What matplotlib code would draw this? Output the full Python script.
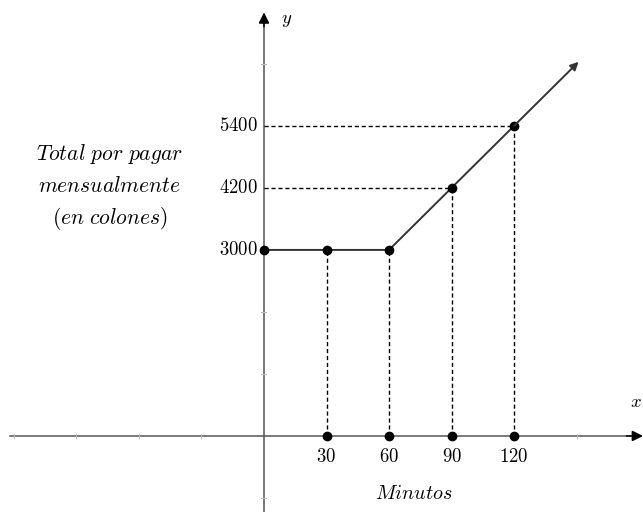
import matplotlib.pyplot as plt

plt.rcParams['mathtext.fontset'] = 'cm'
plt.rcParams['font.family'] = ['DejaVu Serif']

# Data: minutes and monthly total (colones)
minutos = [0, 30, 60, 90, 120]
total = [3000, 3000, 3000, 4200, 5400]
x_ticks = [30, 60, 90, 120]
y_ticks = [3000, 4200, 5400]
arrow_end = (151, 6640)  # where the line keeps going


# the y axis in the drawing is schematic: 3000 sits three tick-steps above 0,
# then every 1200 colones is one more step
def ypos(v):
    return 3 + (v - 3000) / 1200


fig = plt.figure(figsize=(6.43, 5.12), dpi=100)
ax = fig.add_axes([0, 0, 1, 1])
ax.set_xlim(-126.7, 181.9)
ax.set_ylim(-1.226, 7.03)
ax.axis('off')

axis_col = '#555555'
# axes with arrows
ax.plot([-122, 176], [0, 0], color=axis_col, lw=1.1)
ax.annotate('', xy=(181.9, 0), xytext=(174, 0),
            arrowprops=dict(arrowstyle='-|>', color='black', lw=1.1, mutation_scale=16,
                            shrinkA=0, shrinkB=0))
ax.plot([0, 0], [-1.3, 6.7], color=axis_col, lw=1.1)
ax.annotate('', xy=(0, 6.83), xytext=(0, 6.6),
            arrowprops=dict(arrowstyle='-|>', color='black', lw=1.1, mutation_scale=16,
                            shrinkA=0, shrinkB=0))

# faint minor ticks
for t in [-120, -90, -60, -30, 150]:
    ax.plot([t, t], [-0.03, 0.03], color='#bbbbbb', lw=0.8)
for t in [-1, 1, 2, 6]:
    ax.plot([-1.2, 1.2], [t, t], color='#bbbbbb', lw=0.8)

# dashed guide lines
for m, v in zip(minutos[1:], total[1:]):
    ax.plot([m, m], [0, ypos(v)], color='black', lw=1, ls=(0, (3, 2)))
for m, v in zip(minutos[3:], total[3:]):
    ax.plot([0, m], [ypos(v), ypos(v)], color='black', lw=1, ls=(0, (3, 2)))

# the cost line
ax.plot(minutos, [ypos(v) for v in total], color='#333333', lw=1.4)
ax.annotate('', xy=(arrow_end[0], ypos(arrow_end[1])), xytext=(minutos[-1], ypos(total[-1])),
            arrowprops=dict(arrowstyle='-|>', color='#333333', lw=1.4, mutation_scale=12,
                            shrinkA=0, shrinkB=0))

# points
ax.plot(minutos, [ypos(v) for v in total], 'o', color='black', ms=6)
ax.plot(x_ticks, [0] * len(x_ticks), 'o', color='black', ms=6)

# labels
fs = 13.5
for t in x_ticks:
    ax.text(t, -0.2, f'${t}$', ha='center', va='top', fontsize=fs)
for v in y_ticks:
    ax.text(-3, ypos(v), f'${v}$', ha='right', va='center', fontsize=fs)
ax.text(8, 6.7, '$y$', ha='left', va='center', fontsize=fs)
ax.text(181.5, 0.55, '$x$', ha='right', va='center', fontsize=fs)
ax.text(72, -0.93, '$Minutos$', ha='center', va='center', fontsize=14.5)

left = dict(ha='center', va='center', fontsize=15.5)
ax.text(-74, 4.55, r'$Total\ por\ pagar$', **left)
ax.text(-74, 4.03, r'$mensualmente$', **left)
ax.text(-74, 3.5, r'$(en\ colones)$', **left)

fig.savefig('out.png', dpi=100)
